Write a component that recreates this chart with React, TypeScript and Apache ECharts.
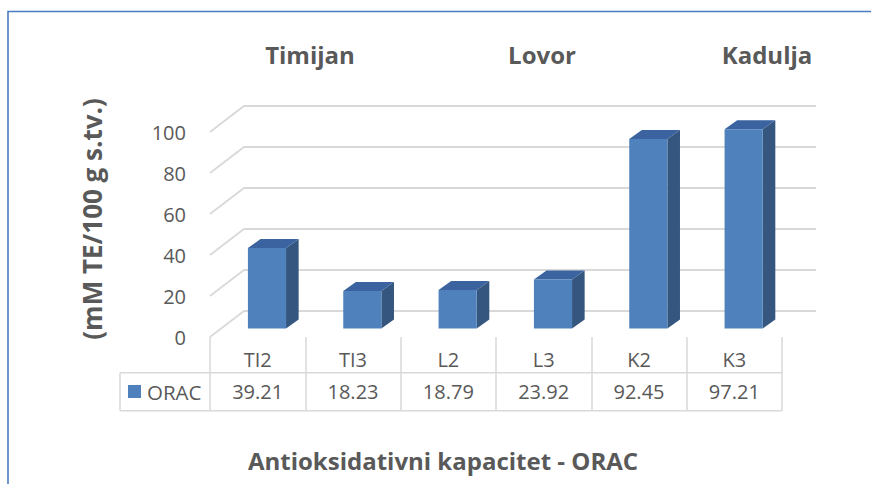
import React, { useEffect, useRef } from 'react';
import * as echarts from 'echarts';

// ---- data ----
const categories = ['TI2', 'TI3', 'L2', 'L3', 'K2', 'K3'];
const oracValues = [39.21, 18.23, 18.79, 23.92, 92.45, 97.21];
const yTicks = [0, 20, 40, 60, 80, 100];
const groupLabels = ['Timijan', 'Lovor', 'Kadulja'];
const seriesName = 'ORAC';
const yAxisTitle = '(mM TE/100 g s.tv.)';
const chartTitle = 'Antioksidativni kapacitet - ORAC';

// ---- layout / style ----
const W = 871;
const H = 484;
const GRID_LEFT = 210;
const GRID_RIGHT_X = 782;
const GRID_TOP = 132;
const GRID_BOTTOM_Y = 337;
const WALL_DX = 34;
const WALL_DY = -26;
const BAR_FRONT_F = 0.33;
const BAR_DDX = 12.6;
const BAR_DDY = -9;
const ROW1_Y = 372.7;
const ROW2_Y = 410.7;
const LEGEND_X = 120;
const FONT = "'Open Sans', 'Noto Sans', sans-serif";
const TEXT = '#595959';
const GRID_COLOR = '#d9d9d9';
const FRONT = '#4f81bd';
const SIDE = '#34567f';
const TOPC = '#3b63a0';
const GROUP_X = [310, 542, 767];

export default function App() {
  const ref = useRef<HTMLDivElement>(null);
  useEffect(() => {
    document.body.style.margin = '0';
    if (!ref.current) return;
    const chart = echarts.init(ref.current, null, { renderer: 'svg' });
    const option: any = {
      animation: false,
      backgroundColor: '#ffffff',
      textStyle: { fontFamily: FONT },
      grid: {
        left: GRID_LEFT,
        right: W - GRID_RIGHT_X,
        top: GRID_TOP,
        bottom: H - GRID_BOTTOM_Y,
      },
      legend: {
        data: [{ name: seriesName, icon: 'rect', itemStyle: { color: FRONT } }],
        left: 128,
        top: 381,
        padding: 0,
        itemWidth: 13,
        itemHeight: 13,
        itemGap: 5,
        selectedMode: false,
        textStyle: { fontSize: 20.5, color: TEXT, fontFamily: FONT, lineHeight: 20, padding: [0, 0, 0, 1] },
      },
      xAxis: [
        {
          type: 'category',
          data: categories,
          position: 'bottom',
          axisLine: { show: false },
          axisTick: {
            show: true,
            alignWithLabel: false,
            length: ROW2_Y - GRID_BOTTOM_Y,
            lineStyle: { color: GRID_COLOR, width: 1.5 },
          },
          axisLabel: { fontSize: 20, color: TEXT, margin: 12, lineHeight: 20, fontFamily: FONT },
          splitLine: { show: false },
        },
        {
          type: 'category',
          data: categories,
          position: 'bottom',
          axisLine: { show: false },
          axisTick: { show: false },
          axisLabel: {
            fontSize: 20,
            color: TEXT,
            margin: 44,
            lineHeight: 20,
            fontFamily: FONT,
            formatter: (_v: string, idx: number) => oracValues[idx].toFixed(2),
          },
          splitLine: { show: false },
        },
      ],
      yAxis: {
        type: 'value',
        min: 0,
        max: 100,
        interval: 20,
        axisLine: { show: false },
        axisTick: { show: false },
        splitLine: { show: false },
        axisLabel: { fontSize: 20, color: TEXT, margin: 24, fontFamily: FONT },
      },
      series: [
        {
          type: 'custom',
          name: 'walls',
          silent: true,
          z: 1,
          data: yTicks.map((v) => [0, v]),
          renderItem: (params: any, api: any) => {
            const cs = params.coordSys;
            const y = api.coord([0, api.value(1)])[1];
            const gx = cs.x;
            const gr = cs.x + cs.width;
            return {
              type: 'polyline',
              shape: {
                points: [
                  [gx, y],
                  [gx + WALL_DX, y + WALL_DY],
                  [gr + WALL_DX, y + WALL_DY],
                ],
              },
              style: { stroke: GRID_COLOR, lineWidth: 1.8, fill: null },
            };
          },
        },
        {
          type: 'custom',
          name: seriesName,
          z: 2,
          itemStyle: { color: FRONT },
          data: oracValues.map((v, i) => [i, v]),
          renderItem: (params: any, api: any) => {
            const i = api.value(0);
            const v = api.value(1);
            const base = api.coord([i, 0]);
            const top = api.coord([i, v]);
            const bw = api.size([1, 0])[0] * 0.4;
            const x0 = base[0] - bw * 0.55 + WALL_DX * BAR_FRONT_F;
            const x1 = x0 + bw;
            const yb = base[1] + WALL_DY * BAR_FRONT_F;
            const yt = top[1] + WALL_DY * BAR_FRONT_F;
            return {
              type: 'group',
              children: [
                {
                  type: 'polygon',
                  shape: {
                    points: [
                      [x1, yb],
                      [x1, yt],
                      [x1 + BAR_DDX, yt + BAR_DDY],
                      [x1 + BAR_DDX, yb + BAR_DDY],
                    ],
                  },
                  style: { fill: SIDE },
                },
                {
                  type: 'polygon',
                  shape: {
                    points: [
                      [x0, yt],
                      [x0 + BAR_DDX, yt + BAR_DDY],
                      [x1 + BAR_DDX, yt + BAR_DDY],
                      [x1, yt],
                    ],
                  },
                  style: { fill: TOPC },
                },
                {
                  type: 'rect',
                  shape: { x: x0, y: yt, width: bw, height: yb - yt },
                  style: { fill: FRONT },
                },
              ],
            };
          },
        },
      ],
      graphic: [
        // outer frame (cut off by the picture)
        {
          type: 'polyline',
          silent: true,
          shape: { points: [[8, H + 2], [8, 11.5], [W + 2, 11.5]] },
          style: { stroke: '#4a7cc0', lineWidth: 1.6, fill: null },
        },
        // data table frame
        {
          type: 'line',
          silent: true,
          shape: { x1: LEGEND_X, y1: ROW1_Y, x2: GRID_RIGHT_X, y2: ROW1_Y },
          style: { stroke: GRID_COLOR, lineWidth: 1.5 },
        },
        {
          type: 'line',
          silent: true,
          shape: { x1: LEGEND_X, y1: ROW2_Y, x2: GRID_RIGHT_X, y2: ROW2_Y },
          style: { stroke: GRID_COLOR, lineWidth: 1.5 },
        },
        {
          type: 'line',
          silent: true,
          shape: { x1: LEGEND_X, y1: ROW1_Y, x2: LEGEND_X, y2: ROW2_Y },
          style: { stroke: GRID_COLOR, lineWidth: 1.5 },
        },
        // group labels
        ...groupLabels.map((t, k) => ({
          type: 'text',
          silent: true,
          x: GROUP_X[k],
          y: 54,
          style: {
            text: t,
            fontSize: 24,
            fontWeight: 'bold',
            fontFamily: FONT,
            fill: TEXT,
            textAlign: 'center',
            textVerticalAlign: 'middle',
          },
        })),
        // y axis title
        {
          type: 'text',
          silent: true,
          x: 92,
          y: 219,
          rotation: Math.PI / 2,
          style: {
            text: yAxisTitle,
            fontSize: 26,
            fontWeight: 'bold',
            fontFamily: FONT,
            fill: TEXT,
            textAlign: 'center',
            textVerticalAlign: 'middle',
          },
        },
        // bottom title
        {
          type: 'text',
          silent: true,
          x: 443,
          y: 460,
          style: {
            text: chartTitle,
            fontSize: 24,
            fontWeight: 'bold',
            fontFamily: FONT,
            fill: TEXT,
            textAlign: 'center',
            textVerticalAlign: 'middle',
          },
        },
      ],
    };
    chart.setOption(option);
    return () => chart.dispose();
  }, []);
  return <div ref={ref} style={{ width: W, height: H }} />;
}
